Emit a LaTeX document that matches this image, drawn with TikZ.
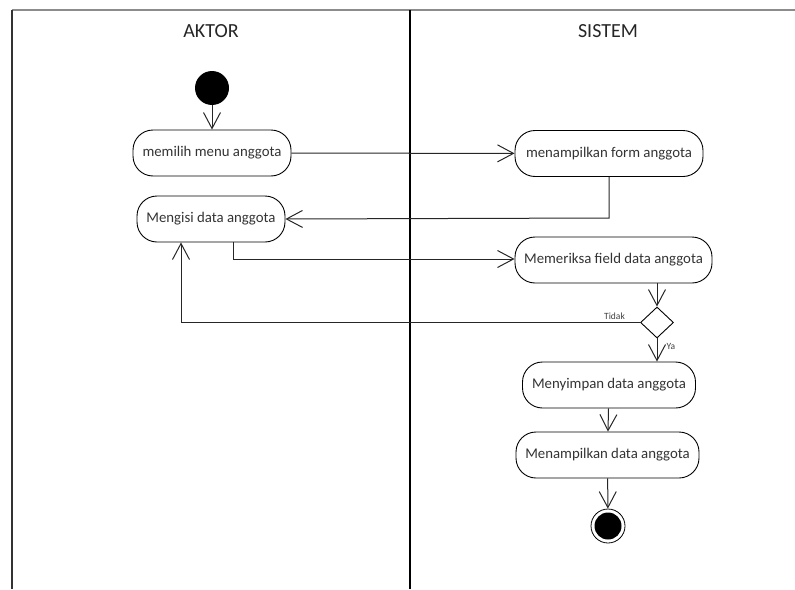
\documentclass[tikz,border=0pt]{standalone}
\usepackage{fontspec}
\setmainfont{Carlito}
\usetikzlibrary{arrows.meta,shapes.geometric}
\begin{document}
\begin{tikzpicture}[x=1pt,y=-1pt,
  act/.style={draw=black, line width=0.9pt, rounded corners=20pt, minimum height=46pt, inner sep=0pt, text=black!80, font=\fontsize{14.8}{16}\selectfont},
  flow/.style={draw=black!85, line width=1pt, -{Straight Barb[length=16pt,width=17pt,line width=1pt]}},
  lane/.style={line width=1.6pt},
  head/.style={text=black!85, font=\fontsize{20}{22}\selectfont},
  guard/.style={text=black!75, font=\fontsize{9.5}{10}\selectfont, inner sep=1pt}]
\useasboundingbox (0,0) rectangle (795,589);
% swimlanes
\draw[lane, draw=black!45] (12,10) -- (795,10);
\draw[lane, draw=black!80] (12,10) -- (12,589);
\draw[lane, draw=black] (410,10) -- (410,589);
\node[head] (aktor) at (211,31) {AKTOR};
\node[head] (sistem) at (608,31) {SISTEM};
% nodes
\node[circle, fill=black, minimum size=34pt, inner sep=0pt] (start) at (212,88) {};
\node[act, minimum width=158pt] (a1) at (212,153) {memilih menu anggota};
\node[act, minimum width=148pt] (a2) at (211,219) {Mengisi data anggota};
\node[act, minimum width=188pt] (s1) at (609,153.5) {menampilkan form anggota};
\node[act, minimum width=197pt] (s2) at (613.5,260) {Memeriksa field data anggota};
\node[diamond, draw=black, line width=0.9pt, minimum width=33pt, minimum height=31pt, inner sep=0pt] (dec) at (657,322.5) {};
\node[act, minimum width=173pt] (s3) at (609,385) {Menyimpan data anggota};
\node[act, minimum width=183pt] (s4) at (607.5,455) {Menampilkan data anggota};
\node[circle, draw=black, line width=0.8pt, minimum size=34pt, inner sep=0pt] (end) at (608,526) {};
\node[circle, fill=black, minimum size=27pt, inner sep=0pt] (endin) at (608,526) {};
% coordinates
\coordinate (c1) at (609,218);
\coordinate (c2) at (233,259);
\coordinate (c3) at (181,322.5);
% flows
\draw[flow] (start) -- (a1);
\draw[flow] (a1) -- (s1);
\draw[flow] (s1.south) -- (c1) -- (a2.east);
\draw[flow] (a2.south -| c2) -- (c2) -- (s2.west |- c2);
\draw[flow] (s2.south -| dec) -- (dec.north);
\draw[flow] (dec.west) -- (c3) -- (c3 |- a2.south);
\draw[flow] (dec.south) -- (s3.north -| dec);
\draw[flow] (s3) -- (s4);
\draw[flow] (s4) -- (end);
\node[guard] (tidak) at (614.5,316) {Tidak};
\node[guard] (ya) at (671,346) {Ya};
\end{tikzpicture}
\end{document}
